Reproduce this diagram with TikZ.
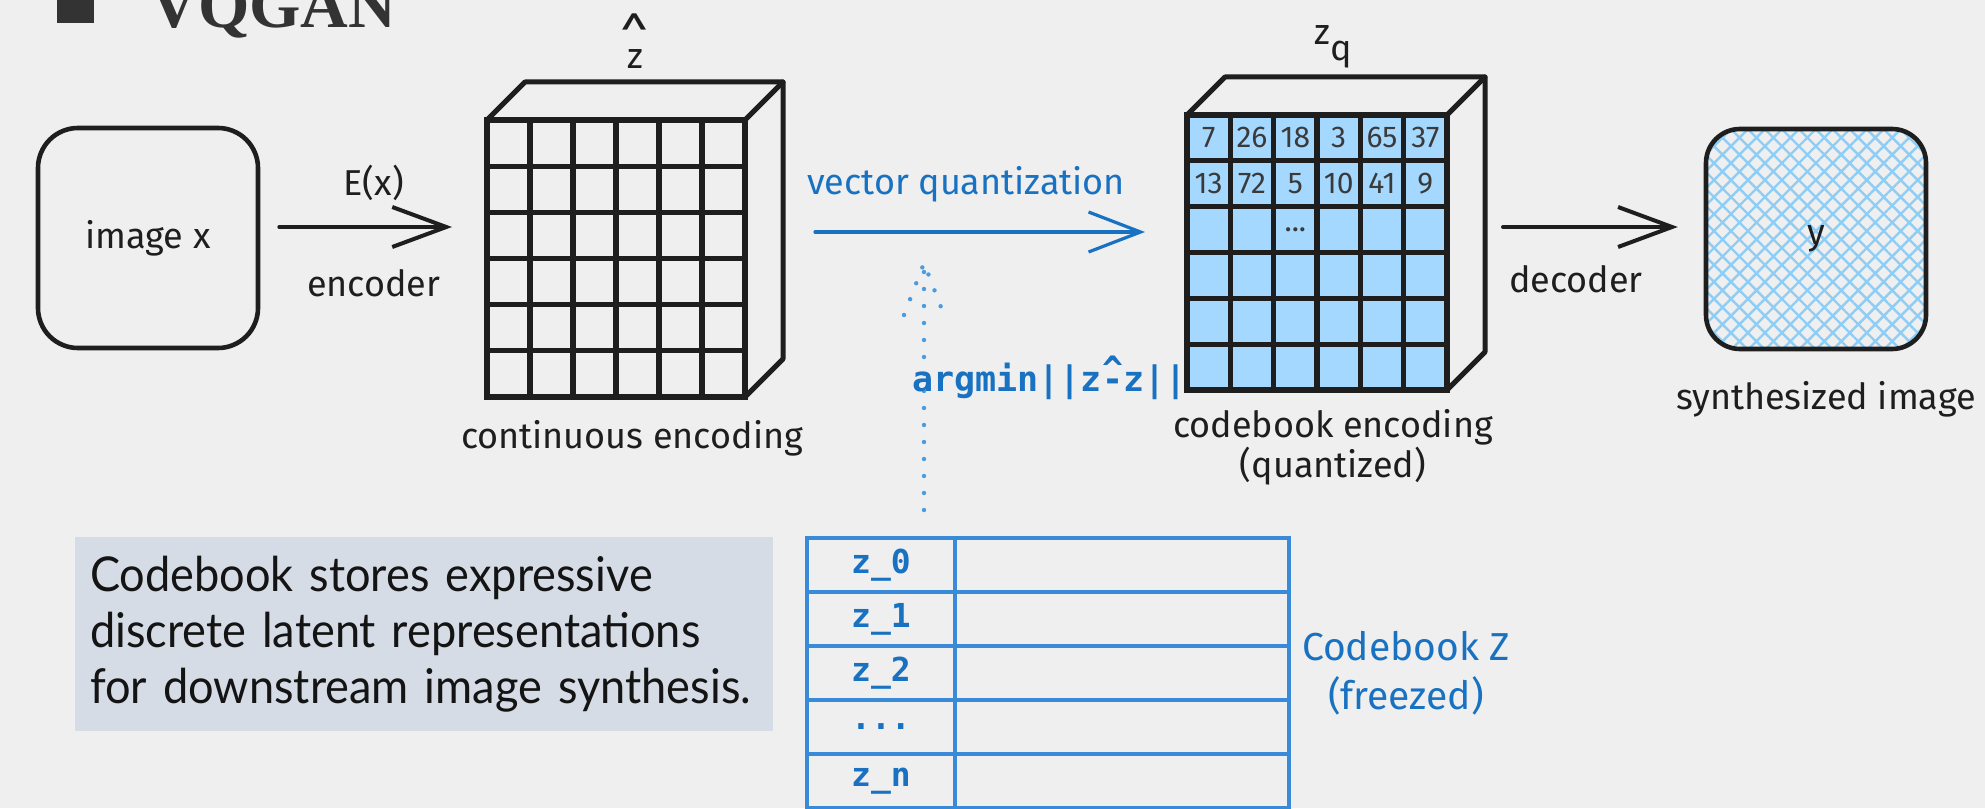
\documentclass[tikz,border=0pt]{standalone}
\usepackage{fontspec}
\usepackage{xcolor}
\usepackage{tikz}
\usetikzlibrary{arrows.meta, positioning, calc, patterns.meta}
\setmainfont{Fira Sans}
\newfontfamily\handfont{Fira Sans}
\newfontfamily\codefont{DejaVu Sans Mono}
\newfontfamily\notefont[FakeStretch=0.94]{Lato}
\newfontfamily\titlefont{Liberation Serif}
\definecolor{ink}{HTML}{1E1E1E}
\definecolor{qblue}{HTML}{1971C2}
\definecolor{tblue}{HTML}{3A8ADA}
\definecolor{dotblue}{HTML}{4A9BE0}
\definecolor{cellblue}{HTML}{A5D8FF}
\definecolor{hatchblue}{HTML}{8ECDF5}
\definecolor{paper}{HTML}{EFEFEF}
\definecolor{notegrey}{HTML}{D5DCE6}
\definecolor{titlegrey}{HTML}{333333}
\definecolor{numgrey}{HTML}{3A3A3A}
\newcommand{\cbdots}{...}
\newcommand{\hatminus}{\rlap{\raisebox{0.3em}{\textasciicircum}}-}
\tikzstyle{imgbox} = [rectangle, draw=ink, line width=2.3pt, rounded corners=20pt, minimum width=110pt, minimum height=110pt, font=\handfont\fontsize{18}{21}\selectfont, text=ink]
\tikzstyle{face} = [rectangle, draw=ink, line width=2.6pt, inner sep=0pt, outer sep=0pt]
\tikzstyle{gridline} = [draw=ink, line width=2.6pt]
\tikzstyle{depth} = [draw=ink, line width=2.5pt, line join=round, line cap=round]
\tikzstyle{hand} = [font=\handfont\fontsize{18}{21}\selectfont, text=ink, align=center]
\tikzstyle{num} = [font=\handfont\fontsize{15}{17}\selectfont, text=numgrey, inner sep=0pt]
\tikzstyle{flow} = [line width=2pt, draw=ink, line cap=round, -{Straight Barb[length=27pt, width=20pt]}]
\tikzstyle{qflow} = [line width=1.6pt, draw=qblue, line cap=round, -{Straight Barb[length=26pt, width=20pt]}]
\tikzstyle{dotline} = [draw=dotblue, line width=2.2pt, line cap=round, dash pattern=on 0pt off 8.5pt]
\tikzstyle{cbcell} = [rectangle, draw=tblue, line width=1.8pt, outer sep=0pt, inner sep=0pt, minimum height=27pt, font=\codefont\bfseries\fontsize{16.5}{18}\selectfont, text=qblue]
\tikzstyle{code} = [font=\codefont\bfseries\fontsize{17.5}{20}\selectfont, text=qblue, inner sep=0pt]
\tikzstyle{notebox} = [rectangle, fill=notegrey, text=black!92, align=left, text width=334pt, minimum height=97pt, inner xsep=7.5pt, font=\notefont\fontsize{24}{28}\selectfont]

\begin{document}
\begin{tikzpicture}[x=0.5pt, y=-0.5pt]

\clip (0,0) rectangle (1985,808);
\fill[paper] (0,0) rectangle (1985,808);

\node (bullet) [fill=titlegrey, inner sep=0pt, minimum size=18.5pt] at (75.5,4.5) {};
\node (title) [anchor=base west, inner sep=0pt, text=titlegrey, font=\titlefont\bfseries\fontsize{33}{36}\selectfont] at (150,28) {VQGAN};

\node (imgx) [imgbox] at (148,238) {image x};

% continuous encoding
\node (zhat) [face, minimum width=129pt, minimum height=138.5pt] at (616,258.5) {};
\foreach \k in {1,...,5} {
  \draw[gridline] ($(zhat.north west)!\k/6!(zhat.north east)$) -- ($(zhat.south west)!\k/6!(zhat.south east)$);
  \draw[gridline] ($(zhat.north west)!\k/6!(zhat.south west)$) -- ($(zhat.north east)!\k/6!(zhat.south east)$);
}
\draw[depth] (zhat.north west) -- ++(38,-38) -- ([shift={(38,-38)}]zhat.north east) -- ([shift={(38,-38)}]zhat.south east) -- (zhat.south east);
\draw[depth] (zhat.north east) -- ++(38,-38);
\node (zhatlbl) [hand, above=22pt of zhat, xshift=9.5pt] {\shortstack{{\fontsize{26}{20}\selectfont\textasciicircum}\\[-7pt]z}};
\node (contlbl) [hand, below=8pt of zhat, xshift=8pt] {continuous encoding};

% quantized encoding
\node (zq) [face, fill=cellblue, minimum width=130pt, minimum height=137.5pt] at (1317,252.5) {};
\foreach \k in {1,...,5} {
  \draw[gridline] ($(zq.north west)!\k/6!(zq.north east)$) -- ($(zq.south west)!\k/6!(zq.south east)$);
  \draw[gridline] ($(zq.north west)!\k/6!(zq.south west)$) -- ($(zq.north east)!\k/6!(zq.south east)$);
}
\draw[depth] (zq.north west) -- ++(38,-38) -- ([shift={(38,-38)}]zq.north east) -- ([shift={(38,-38)}]zq.south east) -- (zq.south east);
\draw[depth] (zq.north east) -- ++(38,-38);
\foreach \v [count=\c] in {7,26,18,3,65,37}
  \node (na\c) [num] at ($(zq.north west)+({(\c-0.5)*260/6},{0.5*275/6})$) {\v};
\foreach \v [count=\c] in {13,72,5,10,41,9}
  \node (nb\c) [num] at ($(zq.north west)+({(\c-0.5)*260/6},{1.5*275/6})$) {\v};
\node (nc3) [num] at ($(zq.north west)+({2.5*260/6},{2.5*275/6})$) {\cbdots};
\node (zqlbl) [hand, above=20pt of zq, xshift=8pt] {z\raisebox{-0.45em}{q}};
\node (cblbl) [hand, below=6pt of zq, xshift=8pt, font=\handfont\fontsize{18}{20}\selectfont] {codebook encoding\\(quantized)};

\node (ysyn) [imgbox, rounded corners=17pt, pattern={Hatch[angle=45, distance=6pt, line width=1.2pt]}, pattern color=hatchblue] at (1816,239) {y};
\node (synlbl) [hand, below=12pt of ysyn, xshift=5pt] {synthesized image};

% codebook
\foreach \lab [count=\r from 0] in {z\_0, z\_1, z\_2, \cbdots, z\_n} {
  \node (k\r) [cbcell, minimum width=74pt] at (881,{565+54*\r}) {\lab};
  \node (v\r) [cbcell, minimum width=167pt, right=0pt of k\r] {};
}
\node (booklbl) [hand, text=qblue, right=3pt of v2, font=\handfont\fontsize{19.5}{24.5}\selectfont] {Codebook Z\\(freezed)};

\coordinate (argtip) at (924,263);
\draw[dotline] ([xshift=21.5pt, yshift=14pt]k0.north) -- (argtip);
\draw[dotline] ([shift={(-20,52)}]argtip) -- (argtip) -- ([shift={(20,52)}]argtip);
\node (argmin) [code, anchor=west] at (912,378) {argmin||z\hatminus z||};

\draw[flow, shorten <=9.5pt, shorten >=17.5pt] ([yshift=5.5pt]imgx.east) -- ([yshift=5.5pt]imgx.east -| zhat.west)
  node[midway, above=9pt, hand] {E(x)} node[midway, below=17pt, hand] {encoder};
\draw[qflow, shorten <=35pt, shorten >=21pt] ([yshift=13.25pt]zhat.east) -- ([yshift=13.25pt]zhat.east -| zq.west)
  node[midway, above=11pt, hand, text=qblue] {vector quantization};
\draw[flow, shorten <=28pt, shorten >=13.5pt] ([yshift=12.75pt]zq.east) -- ([yshift=12.75pt]zq.east -| ysyn.west)
  node[midway, below=15pt, hand] {decoder};

\node (note) [notebox] at (424,634) {Codebook stores expressive\\discrete latent representations\\for downstream image synthesis.};

\end{tikzpicture}
\end{document}
